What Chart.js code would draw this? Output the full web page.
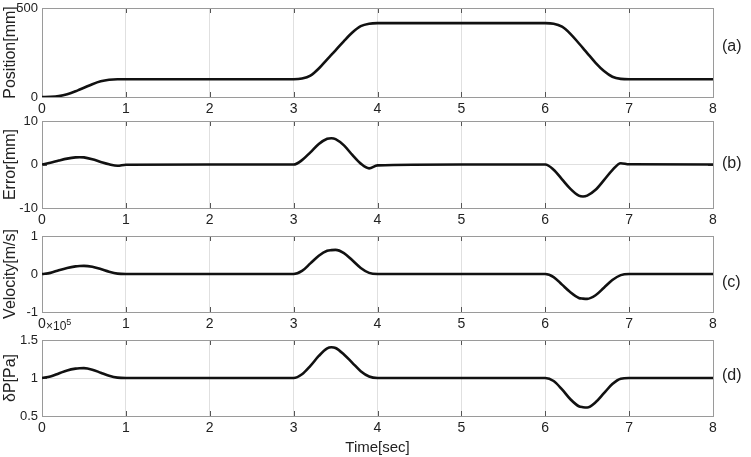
<!DOCTYPE html>
<html>
<head>
<meta charset="utf-8">
<script src="https://cdn.jsdelivr.net/npm/chart.js@4.4.1/dist/chart.umd.min.js"></script>
<style>
  body { margin: 0; background: #fff; }
  #wrap { position: relative; width: 751px; height: 457px; overflow: hidden; }
  canvas { position: absolute; left: 0; }
  .tag { position: absolute; font: 16px "Liberation Sans", Arial, sans-serif; color: #222; }
</style>
</head>
<body>
<div id="wrap">
  <canvas id="posChart"></canvas>
  <canvas id="errChart"></canvas>
  <canvas id="velChart"></canvas>
  <canvas id="presChart"></canvas>
  <div class="tag" style="left:722px; top:37px;">(a)</div>
  <div class="tag" style="left:722px; top:154px;">(b)</div>
  <div class="tag" style="left:722px; top:273px;">(c)</div>
  <div class="tag" style="left:722px; top:366px;">(d)</div>
  <div class="tag" style="left:46px; top:317px; font-size:12px;">&times;10<sup style="font-size:9px;">5</sup></div>
</div>
<script>
// time in seconds
const time = [0, 0.1, 0.2, 0.3, 0.4, 0.45, 0.5, 0.6, 0.7, 0.8, 0.9, 1.0, 2.0,
    3.0, 3.1, 3.2, 3.3, 3.4, 3.45, 3.5, 3.6, 3.7, 3.8, 3.9, 4.0, 5.0,
    6.0, 6.1, 6.2, 6.3, 6.4, 6.45, 6.5, 6.6, 6.7, 6.8, 6.9, 7.0, 8.0];

// position [mm]
const position = [0, 1, 5, 15, 32, 42, 52, 72, 88, 97, 100, 100, 100,
    100, 104, 120, 160, 212, 237, 262, 314, 362, 398, 412, 415, 415,
    415, 412, 395, 355, 302, 275, 247, 192, 146, 114, 102, 100, 100];

// error [mm]
const error = [0, 0.4, 0.9, 1.35, 1.64, 1.68, 1.63, 1.2, 0.6, 0.05, -0.3, -0.05, 0,
    0, 1.0, 2.8, 4.7, 5.9, 6.05, 5.85, 4.4, 2.2, 0.2, -0.9, -0.2, 0,
    0, -1.2, -3.4, -5.6, -7.15, -7.35, -7.15, -5.8, -3.6, -1.3, 0.3, 0.05, 0];

// velocity [m/s]
const velocity = [0, 0.03, 0.1, 0.16, 0.2, 0.21, 0.215, 0.19, 0.13, 0.06, 0.01, 0, 0,
    0, 0.08, 0.28, 0.48, 0.61, 0.628, 0.635, 0.55, 0.36, 0.16, 0.03, 0, 0,
    0, -0.08, -0.28, -0.48, -0.63, -0.648, -0.655, -0.56, -0.36, -0.16, -0.03, 0, 0];

// pressure difference [x10^5 Pa]
const pressure = [1.0, 1.02, 1.06, 1.1, 1.123, 1.128, 1.13, 1.11, 1.07, 1.03, 1.005, 1.0, 1.0,
    1.0, 1.05, 1.16, 1.29, 1.39, 1.405, 1.395, 1.31, 1.20, 1.09, 1.02, 1.0, 1.0,
    1.0, 0.96, 0.85, 0.72, 0.628, 0.616, 0.612, 0.68, 0.80, 0.92, 0.99, 1.0, 1.0];

const timeTicks = [0, 1, 2, 3, 4, 5, 6, 7, 8];
const positionTicks = [0, 500];
const errorTicks = [-10, 0, 10];
const velocityTicks = [-1, 0, 1];
const pressureTicks = [0.5, 1, 1.5];

const FONT = '"Liberation Sans", Arial, sans-serif';

// MATLAB-like box with inward tick marks
const framePlugin = {
    id: 'frame',
    beforeDatasetsDraw(chart) {
        const ctx = chart.ctx;
        const a = chart.chartArea;
        const xs = chart.scales.x, ys = chart.scales.y;
        ctx.save();
        ctx.strokeStyle = '#555';
        ctx.lineWidth = 1;
        ctx.beginPath();
        xs.ticks.forEach(t => {
            const px = Math.round(xs.getPixelForValue(t.value)) + 0.5;
            ctx.moveTo(px, a.top); ctx.lineTo(px, a.top + 5);
            ctx.moveTo(px, a.bottom); ctx.lineTo(px, a.bottom - 5);
        });
        ys.ticks.forEach(t => {
            const py = Math.round(ys.getPixelForValue(t.value)) + 0.5;
            ctx.moveTo(a.left, py); ctx.lineTo(a.left + 5, py);
            ctx.moveTo(a.right, py); ctx.lineTo(a.right - 5, py);
        });
        ctx.stroke();
        ctx.strokeStyle = '#9a9a9a';
        ctx.strokeRect(Math.round(a.left) + 0.5, Math.round(a.top) + 0.5,
            Math.round(a.right - a.left), Math.round(a.bottom - a.top));
        ctx.restore();
    }
};

function makeChart(id, values, yTicks, yTitle, top, height, xTitle) {
    const padTop = 12;
    const xAxisH = xTitle ? 43 : 22;
    const canvas = document.getElementById(id);
    canvas.width = 751;
    canvas.height = padTop + height + xAxisH;
    canvas.style.top = (top - padTop) + 'px';

    return new Chart(canvas.getContext('2d'), {
        type: 'line',
        data: {
            datasets: [{
                data: time.map((t, i) => ({ x: t, y: values[i] })),
                borderColor: '#111',
                borderWidth: 2.6,
                pointRadius: 0,
                fill: false,
                cubicInterpolationMode: 'monotone'
            }]
        },
        options: {
            responsive: false,
            animation: false,
            events: [],
            layout: { padding: { top: padTop, right: 38, left: 0, bottom: 0 } },
            plugins: { legend: { display: false }, tooltip: { enabled: false } },
            scales: {
                x: {
                    type: 'linear',
                    min: 0,
                    max: 8,
                    afterBuildTicks: s => { s.ticks = timeTicks.map(v => ({ value: v })); },
                    afterFit: s => { s.height = xAxisH; },
                    grid: { color: '#e0e0e0', drawTicks: false },
                    border: { display: false },
                    ticks: { color: '#222', padding: 4, font: { family: FONT, size: 14 }, callback: v => String(v) },
                    title: {
                        display: !!xTitle,
                        text: xTitle || '',
                        color: '#222',
                        padding: { top: 0, bottom: 2 },
                        font: { family: FONT, size: 15 }
                    }
                },
                y: {
                    min: yTicks[0],
                    max: yTicks[yTicks.length - 1],
                    afterBuildTicks: s => { s.ticks = yTicks.map(v => ({ value: v })); },
                    afterFit: s => { s.width = 42; },
                    grid: { color: '#e0e0e0', drawTicks: false },
                    border: { display: false },
                    ticks: { color: '#222', padding: 4, font: { family: FONT, size: 13 }, callback: v => String(v) },
                    title: {
                        display: true,
                        text: yTitle,
                        color: '#222',
                        padding: { top: 1, bottom: 0 },
                        font: { family: FONT, size: 16 }
                    }
                }
            }
        },
        plugins: [framePlugin]
    });
}

makeChart('posChart', position, positionTicks, 'Position[mm]', 8, 89);
makeChart('errChart', error, errorTicks, 'Error[mm]', 121, 87);
makeChart('velChart', velocity, velocityTicks, 'Velocity[m/s]', 236, 76);
makeChart('presChart', pressure, pressureTicks, 'δP[Pa]', 340, 76, 'Time[sec]');
</script>
</body>
</html>
